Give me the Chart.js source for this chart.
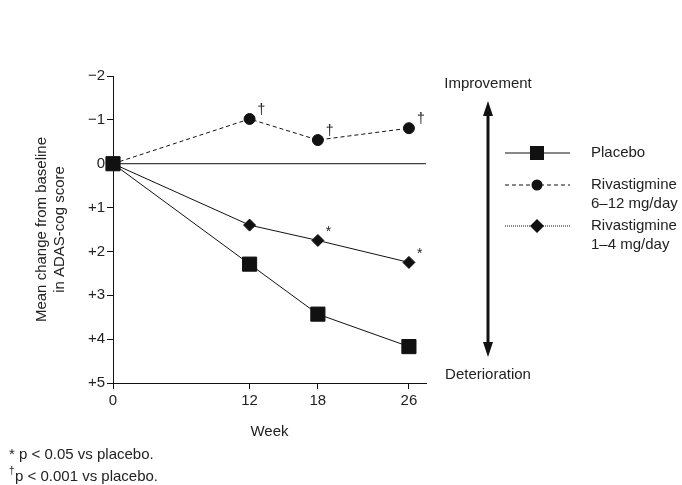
<!DOCTYPE html>
<html>
<head>
<meta charset="utf-8">
<script src="https://cdn.jsdelivr.net/npm/chart.js@4/dist/chart.umd.min.js"></script>
<style>
  body { margin: 0; background: #fff; }
  canvas { display: block; }
</style>
</head>
<body>
<canvas id="adasChart" width="682" height="485"></canvas>
<script>
// datos
const weeks = [0, 12, 18, 26];
const placebo = [0, 2.29, 3.43, 4.17];
const riva612 = [0, -1.02, -0.54, -0.81];
const riva14 = [0, 1.40, 1.75, 2.25];
const riva612Marks = ['', '†', '†', '†'];
const riva14Marks = ['', '', '*', '*'];
const yTicks = [-2, -1, 0, 1, 2, 3, 4, 5];
const seriesNames = [['Placebo'], ['Rivastigmine', '6–12 mg/day'], ['Rivastigmine', '1–4 mg/day']];
const xMax = 27.5;

const FONT = '"Liberation Sans", Arial, sans-serif';
const INK = '#222';

function pts(vals) {
  return weeks.map((w, i) => ({ x: w, y: vals[i] }));
}

function yLabel(v) {
  if (v === 0) return '0';
  return v < 0 ? '\u2212' + Math.abs(v) : '+' + v;
}

// simbolos, flecha, leyenda y notas
const extras = {
  id: 'extras',
  afterDatasetsDraw(chart) {
    const ctx = chart.ctx;
    const xs = chart.scales.x, ys = chart.scales.y;
    ctx.save();
    ctx.fillStyle = INK;
    ctx.font = '14px ' + FONT;
    ctx.textAlign = 'left';
    ctx.textBaseline = 'middle';
    riva612Marks.forEach((m, i) => {
      if (m) ctx.fillText(m, xs.getPixelForValue(weeks[i]) + 8, ys.getPixelForValue(riva612[i]) - 9);
    });
    riva14Marks.forEach((m, i) => {
      if (m) ctx.fillText(m, xs.getPixelForValue(weeks[i]) + 8, ys.getPixelForValue(riva14[i]) - 8);
    });
    ctx.restore();
  },
  afterDraw(chart) {
    const ctx = chart.ctx;
    ctx.save();
    ctx.fillStyle = INK;
    ctx.strokeStyle = '#111';

    // flecha vertical
    const ax = 488;
    ctx.lineWidth = 3;
    ctx.beginPath();
    ctx.moveTo(ax, 112);
    ctx.lineTo(ax, 346);
    ctx.stroke();
    ctx.fillStyle = '#111';
    ctx.beginPath();
    ctx.moveTo(ax, 101); ctx.lineTo(ax - 5, 116); ctx.lineTo(ax + 5, 116); ctx.closePath(); ctx.fill();
    ctx.beginPath();
    ctx.moveTo(ax, 357); ctx.lineTo(ax - 5, 342); ctx.lineTo(ax + 5, 342); ctx.closePath(); ctx.fill();

    ctx.fillStyle = INK;
    ctx.font = '15px ' + FONT;
    ctx.textAlign = 'center';
    ctx.textBaseline = 'middle';
    ctx.fillText('Improvement', ax, 84);
    ctx.fillText('Deterioration', ax, 375);

    // leyenda
    const rows = [153, 185, 226];
    const dashes = [[], [4, 3], [1, 1]];
    rows.forEach((ry, i) => {
      ctx.strokeStyle = '#111';
      ctx.lineWidth = 1;
      ctx.setLineDash(dashes[i]);
      ctx.beginPath();
      ctx.moveTo(505, ry);
      ctx.lineTo(570, ry);
      ctx.stroke();
      ctx.setLineDash([]);
      ctx.fillStyle = '#111';
      const cx = 537;
      ctx.beginPath();
      if (i === 0) {
        ctx.rect(cx - 7, ry - 7, 14, 14);
      } else if (i === 1) {
        ctx.arc(cx, ry, 5.5, 0, Math.PI * 2);
      } else {
        ctx.moveTo(cx, ry - 7); ctx.lineTo(cx + 7, ry); ctx.lineTo(cx, ry + 7); ctx.lineTo(cx - 7, ry); ctx.closePath();
      }
      ctx.fill();
      ctx.fillStyle = INK;
      ctx.textAlign = 'left';
      seriesNames[i].forEach((line, j) => ctx.fillText(line, 591, ry + j * 19));
    });

    // notas al pie
    ctx.textAlign = 'left';
    ctx.fillText('* p < 0.05 vs placebo.', 9, 455);
    ctx.font = '10px ' + FONT;
    ctx.fillText('†', 9, 471);
    ctx.font = '15px ' + FONT;
    ctx.fillText('p < 0.001 vs placebo.', 15, 477);
    ctx.restore();
  }
};

const adasChart = new Chart(
  document.getElementById('adasChart'),
  {
    type: 'line',
    data: {
      datasets: [
        {
          label: 'Placebo',
          data: pts(placebo),
          borderColor: '#111',
          backgroundColor: '#111',
          borderWidth: 1,
          pointStyle: 'rect',
          pointRadius: 10,
          pointHoverRadius: 10,
          clip: false
        },
        {
          label: 'Rivastigmine 6–12 mg/day',
          data: pts(riva612),
          borderColor: '#111',
          backgroundColor: '#111',
          borderWidth: 1,
          borderDash: [4, 3],
          pointStyle: 'circle',
          pointRadius: 5.5,
          pointHoverRadius: 5.5,
          clip: false
        },
        {
          label: 'Rivastigmine 1–4 mg/day',
          data: pts(riva14),
          borderColor: '#111',
          backgroundColor: '#111',
          borderWidth: 1,
          pointStyle: 'rectRot',
          pointRadius: 6,
          pointHoverRadius: 6,
          clip: false
        },
        {
          label: 'baseline',
          data: [{ x: 0, y: 0 }, { x: xMax, y: 0 }],
          borderColor: '#111',
          borderWidth: 1,
          pointRadius: 0
        }
      ]
    },
    options: {
      responsive: false,
      animation: false,
      layout: { padding: { left: 33, top: 76, right: 256, bottom: 40 } },
      plugins: {
        legend: { display: false },
        tooltip: { enabled: false }
      },
      scales: {
        x: {
          type: 'linear',
          min: 0,
          max: xMax,
          afterBuildTicks: function(scale) {
            scale.ticks = weeks.map(w => ({ value: w }));
          },
          afterFit: function(scale) { scale.height = 62; },
          grid: { drawOnChartArea: false, drawTicks: true, tickLength: 6, color: '#111' },
          border: { display: true, color: '#111' },
          ticks: { color: INK, font: { family: FONT, size: 15 }, padding: 3, maxRotation: 0 },
          title: { display: true, text: 'Week', color: INK, font: { family: FONT, size: 15 }, padding: { top: 8 } }
        },
        y: {
          min: -2,
          max: 5,
          reverse: true,
          afterBuildTicks: function(scale) {
            scale.ticks = yTicks.map(v => ({ value: v }));
          },
          afterFit: function(scale) { scale.width = 80; },
          grid: { drawOnChartArea: false, drawTicks: true, tickLength: 6, color: '#111' },
          border: { display: true, color: '#111' },
          ticks: {
            color: INK,
            font: { family: FONT, size: 15 },
            padding: 2,
            callback: function(value) { return yLabel(value); }
          },
          title: {
            display: true,
            text: ['Mean change from baseline', 'in ADAS-cog score'],
            color: INK,
            font: { family: FONT, size: 15 },
            padding: { top: 0, bottom: 0 }
          }
        }
      }
    },
    plugins: [extras]
  }
);
</script>
</body>
</html>
